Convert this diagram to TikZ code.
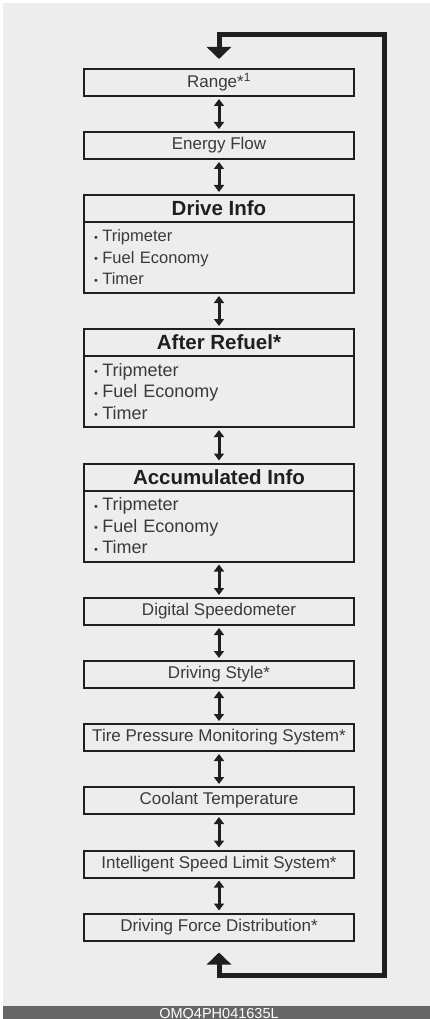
\documentclass[tikz,border=0pt]{standalone}
\usepackage{fontspec}
\setmainfont{Liberation Sans}
\usetikzlibrary{arrows.meta, calc}

\definecolor{panel}{HTML}{EDEDEE}
\definecolor{ink}{HTML}{1F1F1F}
\definecolor{txt}{HTML}{3A3A3A}
\definecolor{bar}{HTML}{666666}

\newcommand{\dotitem}{{\fontsize{11}{11}\selectfont\raisebox{0.8pt}{•}}\hspace{4.5pt}}

\begin{document}
\begin{tikzpicture}[x=1pt, y=-1pt,
  screen/.style={draw=ink, line width=2pt, outer sep=0pt, inner sep=0pt,
    minimum width=270pt, minimum height=27pt, text=txt,
    font=\fontsize{17}{20}\selectfont},
  head/.style={screen, text=ink, font=\bfseries\fontsize{20.5}{24}\selectfont},
  items/.style={screen, anchor=north, minimum height=71pt, text width=250pt,
    align=left, font=\fontsize{18}{21.5}\selectfont},
  twoway/.style={{Triangle[width=10pt,length=7pt]}-{Triangle[width=10pt,length=7pt]},
    draw=ink, line width=3pt, shorten <=3pt, shorten >=3pt},
  loopline/.style={{Triangle[width=24pt,length=12pt]}-{Triangle[width=24pt,length=12pt]},
    draw=ink, line width=5pt}
]
\useasboundingbox (0,0) rectangle (430,1019);

% Panel and caption bar
\fill[panel] (3,3) rectangle (430,1006);
\fill[bar] (3,1006) rectangle (430,1019);
\node[anchor=base, text=white, font=\fontsize{14.5}{14.5}\selectfont] (code) at (219,1018) {OMQ4PH041635L};

% Screens
\node[screen] (range) at (219,82.5) {Range*\textsuperscript{1}};
\node[screen] (energy) at (219,145.5) {Energy Flow};

\node[head] (drive) at (219,208.5) {Drive Info};
\node[items, font=\fontsize{16.5}{21.5}\selectfont] (drivelist) at (drive.south)
  {\dotitem Tripmeter\\ \dotitem Fuel Economy\\ \dotitem Timer};

\node[head] (refuel) at (219,342.5) {After Refuel*};
\node[items] (refuellist) at (refuel.south)
  {\dotitem Tripmeter\\ \dotitem Fuel Economy\\ \dotitem Timer};

\node[head] (accum) at (219,477) {Accumulated Info};
\node[items] (accumlist) at (accum.south)
  {\dotitem Tripmeter\\ \dotitem Fuel Economy\\ \dotitem Timer};

\node[screen] (speedo) at (219,611.5) {Digital Speedometer};
\node[screen] (style) at (219,674.5) {Driving Style*};
\node[screen] (tpms) at (219,737.5) {Tire Pressure Monitoring System*};
\node[screen] (coolant) at (219,800.5) {Coolant Temperature};
\node[screen] (isl) at (219,864) {Intelligent Speed Limit System*};
\node[screen] (force) at (219,927) {Driving Force Distribution*};

% Switching arrows
\foreach \a/\b in {range/energy, energy/drive, drivelist/refuel, refuellist/accum,
  accumlist/speedo, speedo/style, style/tpms, tpms/coolant, coolant/isl, isl/force}
  \draw[twoway] (\a.south) -- (\b.north);

% Return loop
\coordinate (railbot) at (384,975);
\coordinate (railtop) at (384,35);
\draw[loopline] ([yshift=-12pt]force.south) |- (railbot) -- (railtop) -| ([yshift=10pt]range.north);

\end{tikzpicture}
\end{document}
